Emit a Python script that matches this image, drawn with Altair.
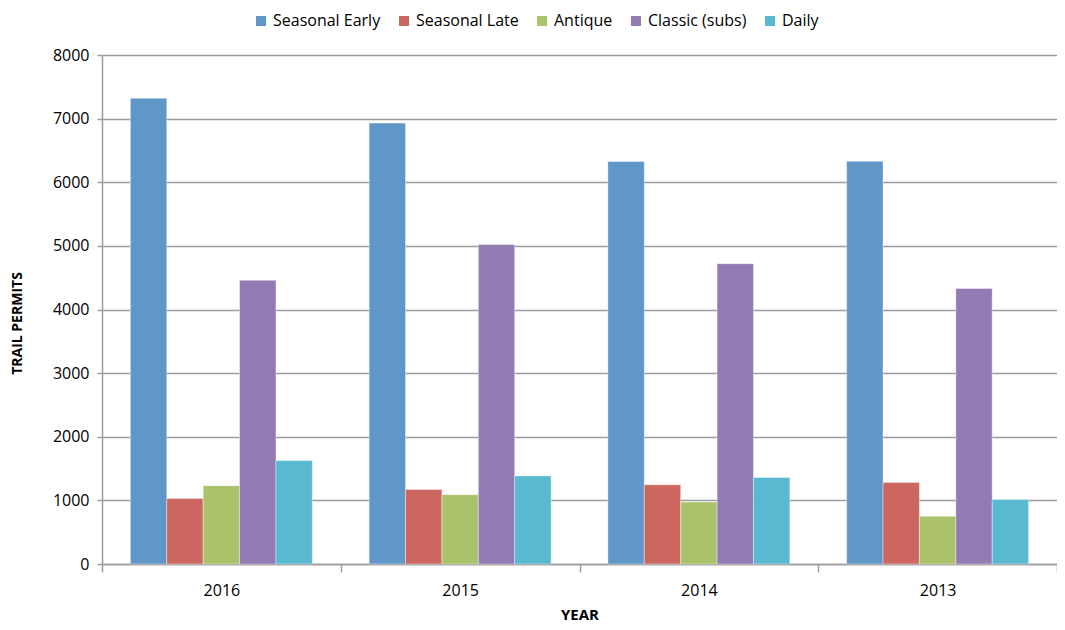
import altair as alt
import pandas as pd

years = ["2016", "2015", "2014", "2013"]
series = ["Seasonal Early", "Seasonal Late", "Antique", "Classic (subs)", "Daily"]
colors = ["#6096C8", "#CC6760", "#AAC36A", "#927AB2", "#59B9D0"]
values = {
    "Seasonal Early": [7320, 6930, 6325, 6330],
    "Seasonal Late": [1030, 1170, 1245, 1280],
    "Antique": [1230, 1090, 975, 750],
    "Classic (subs)": [4460, 5020, 4720, 4330],
    "Daily": [1625, 1385, 1360, 1015],
}

rows = []
for s in series:
    for y, v in zip(years, values[s]):
        rows.append({"Year": y, "Series": s, "Permits": v})
df = pd.DataFrame(rows)

FONT = "Open Sans"
GRID = "#9c9c9c"

chart = alt.Chart(df).mark_bar(
    stroke="white", strokeWidth=0.8, strokeOpacity=0.5
).encode(
    x=alt.X(
        "Year:N",
        sort=years,
        scale=alt.Scale(paddingInner=0, paddingOuter=0),
        axis=alt.Axis(
            title="YEAR",
            labelAngle=0,
            tickBand="extent",
            tickSize=8,
            tickColor=GRID,
            tickWidth=1.5,
            domainColor=GRID,
            domainWidth=1.5,
            labelPadding=10,
            labelFontSize=16,
            labelColor="#000000",
            titleFontSize=15,
            titleFontWeight="bold",
            titleColor="#000000",
            titleY=50,
            titleBaseline="middle",
        ),
    ),
    xOffset=alt.XOffset(
        "Series:N",
        sort=series,
        scale=alt.Scale(domain=series, paddingInner=0, paddingOuter=0.78),
    ),
    y=alt.Y(
        "Permits:Q",
        scale=alt.Scale(domain=[0, 8000]),
        axis=alt.Axis(
            title="TRAIL PERMITS",
            values=list(range(0, 8001, 1000)),
            format="d",
            grid=True,
            gridColor=GRID,
            gridWidth=1.5,
            tickSize=5,
            tickColor=GRID,
            tickWidth=1.5,
            domainColor=GRID,
            domainWidth=1.5,
            labelPadding=8,
            labelFontSize=16,
            labelColor="#000000",
            titleFontSize=14,
            titleFontWeight="bold",
            titleColor="#000000",
            titleX=-85,
            titleY=268,
            titleAlign="center",
            titleBaseline="middle",
        ),
    ),
    color=alt.Color(
        "Series:N",
        scale=alt.Scale(domain=series, range=colors),
        legend=alt.Legend(
            title=None,
            orient="none",
            direction="horizontal",
            columns=5,
            legendX=151,
            legendY=-42,
            symbolType="square",
            symbolSize=100,
            symbolStrokeWidth=0,
            labelFontSize=16,
            labelColor="#000000",
            labelOffset=4,
            columnPadding=15,
        ),
    ),
).properties(
    width=955,
    height=509,
    autosize=alt.AutoSizeParams(type="none"),
    padding={"left": 94, "top": 47, "right": 0, "bottom": 58},
).configure(
    font=FONT,
).configure_view(
    stroke=None,
).configure_axis(
    labelFont=FONT,
    titleFont=FONT,
).configure_legend(
    labelFont=FONT,
)

chart.save("out.html", embed_options={"renderer": "svg", "actions": False})
